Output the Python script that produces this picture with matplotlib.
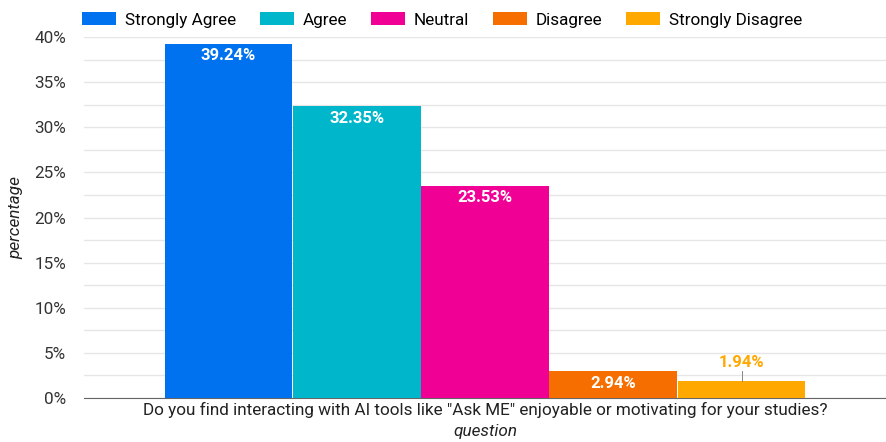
import numpy as np
from matplotlib import pyplot as plt

plt.rcParams['font.family'] = ['Roboto', 'DejaVu Sans']

categories = ["Strongly Agree", "Agree", "Neutral", "Disagree", "Strongly Disagree"]
values = [39.24, 32.35, 23.53, 2.94, 1.94]
colors = ["#0072f0", "#00b6cb", "#f10096", "#f66d00", "#ffa800"]
question = 'Do you find interacting with AI tools like "Ask ME" enjoyable or motivating for your studies?'
yticks = [0, 5, 10, 15, 20, 25, 30, 35, 40]

fig = plt.figure(figsize=(8.86, 4.42), dpi=100)
ax = fig.add_axes([0.0948, 0.0995, 0.9052, 0.8168])

fs = 12.3
n = len(values)
width = 0.8 / n
x = -0.4 + width / 2 + np.arange(n) * width
bars = ax.bar(x, values, width=width * 0.995, color=colors, label=categories, zorder=3)

for xi, v, c in zip(x, values, colors):
    if v > 2.5:
        ax.text(xi, v - 0.5, f"{v:.2f}%", ha="center", va="top", color="white",
                fontsize=12, fontweight="bold", zorder=4)
    else:
        ax.plot([xi, xi], [v, v + 1.1], color="#888888", lw=0.7, zorder=4)
        ax.text(xi, v + 1.2, f"{v:.2f}%", ha="center", va="bottom", color=c,
                fontsize=12, fontweight="bold", zorder=4)

ax.set_xlim(-0.5, 0.5)
ax.set_ylim(0, 40)
ax.set_yticks(yticks)
ax.set_yticklabels([f"{t}%" for t in yticks], fontsize=fs, color="#333333")
ax.set_yticks(np.arange(2.5, 40, 5), minor=True)
ax.tick_params(axis="y", which="both", length=0, pad=13)
ax.grid(axis="y", which="both", color="#e6e6e6", lw=1, zorder=0)
ax.set_xticks([0])
ax.set_xticklabels([question], fontsize=fs, color="#222222")
ax.tick_params(axis="x", length=0, pad=3)
ax.set_xlabel("question", fontsize=fs, style="italic", labelpad=4, color="#222222")
ax.set_ylabel("percentage", fontsize=fs, style="italic", labelpad=8, color="#222222")
for s in ["top", "right", "left"]:
    ax.spines[s].set_visible(False)
ax.spines["bottom"].set_color("#666666")

ax.legend(loc="lower left", bbox_to_anchor=(-0.014, 1.0), ncol=5, frameon=False,
          fontsize=fs, handlelength=2.0, handleheight=0.8, columnspacing=1.4,
          handletextpad=0.5, borderaxespad=0.55, borderpad=0.0)

plt.savefig("out.png", dpi=100)
plt.close()
